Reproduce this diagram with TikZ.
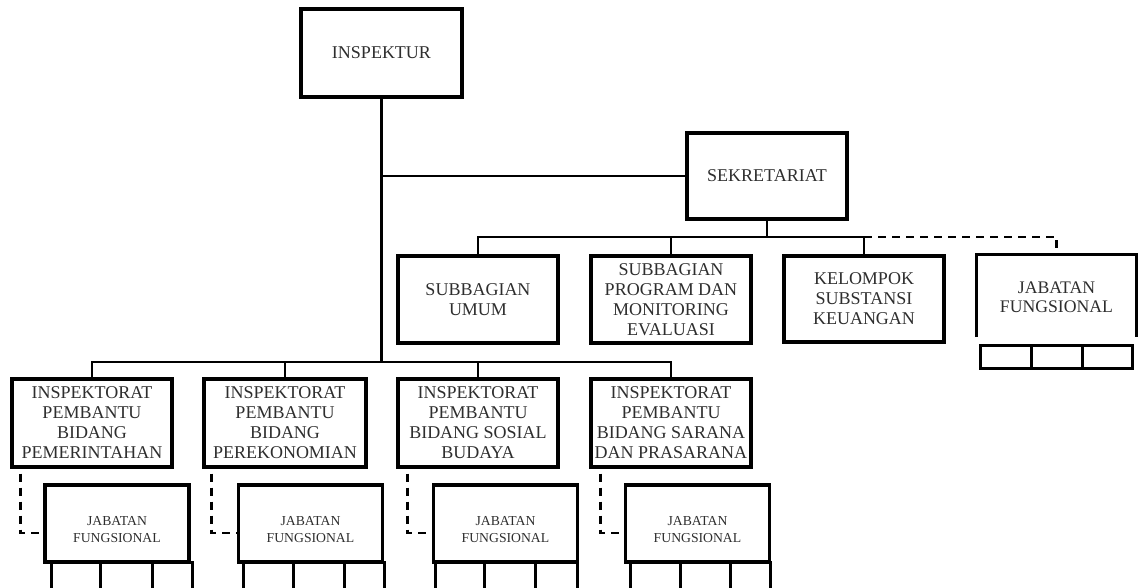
\documentclass[tikz,border=0pt]{standalone}
\usepackage{fontspec}
\setmainfont{Liberation Serif}
\newcommand{\jftext}{\raisebox{-10.5pt}[0pt][0pt]{\begin{tabular}{@{}c@{}}JABATAN\\FUNGSIONAL\end{tabular}}}
\begin{document}
\begin{tikzpicture}[x=1pt,y=-1pt,
  txt/.style={text=black!82,align=center,font=\fontsize{18}{20}\selectfont},
  box/.style={txt,draw=black,line width=3.2pt,inner sep=0pt},
  small/.style={text=black!82,align=center,font=\fontsize{13.7}{17.5}\selectfont},
  smallbox/.style={small,draw=black,line width=3.2pt,inner sep=0pt,minimum width=144pt,minimum height=77pt},
  cell/.style={draw=black,line width=3pt,inner sep=0pt},
  conn/.style={line width=2.8pt},
  dconn/.style={line width=2.6pt,dash pattern=on 8pt off 6pt}]
\useasboundingbox (0,0) rectangle (1138,588);
\clip (0,0) rectangle (1138,588);
% top level
\node[box,minimum width=161pt,minimum height=88pt] (insp) at (381.5,53) {INSPEKTUR};
\node[box,minimum width=160pt,minimum height=86pt] (sek) at (767,176) {SEKRETARIAT};
% secretariat units
\node[box,minimum width=160pt,minimum height=87pt] (sub1) at (478,299.5) {SUBBAGIAN\\UMUM};
\node[box,minimum width=160pt,minimum height=87pt] (sub2) at (671,299.5) {SUBBAGIAN\\PROGRAM DAN\\MONITORING\\EVALUASI};
\node[box,minimum width=160pt,minimum height=86pt] (kel) at (864,299) {KELOMPOK\\SUBSTANSI\\KEUANGAN};
% top-right jabatan fungsional (open box)
\node[txt,font=\fontsize{17.7}{19}\selectfont,minimum width=159pt,minimum height=82pt] (jf0) at (1056.5,296) {\raisebox{-7.5pt}[0pt][0pt]{\begin{tabular}{@{}c@{}}JABATAN\\FUNGSIONAL\end{tabular}}};
\draw[conn,line width=3pt] (jf0.south west) -- (jf0.north west) -- (jf0.north east) -- (jf0.south east);
\node[cell,minimum width=51pt,minimum height=23pt] (c0a) at (1005.5,356.5) {};
\node[cell,minimum width=51pt,minimum height=23pt] (c0b) at (1056.5,356.5) {};
\node[cell,minimum width=50pt,minimum height=23pt] (c0c) at (1107,356.5) {};
% inspektorat pembantu
\node[box,minimum width=160pt,minimum height=88pt] (ip1) at (92,423) {INSPEKTORAT\\PEMBANTU\\BIDANG\\PEMERINTAHAN};
\node[box,minimum width=162pt,minimum height=88pt] (ip2) at (285,423) {INSPEKTORAT\\PEMBANTU\\BIDANG\\PEREKONOMIAN};
\node[box,minimum width=160pt,minimum height=88pt] (ip3) at (478,423) {INSPEKTORAT\\PEMBANTU\\BIDANG SOSIAL\\BUDAYA};
\node[box,minimum width=160pt,minimum height=88pt] (ip4) at (671,423) {INSPEKTORAT\\PEMBANTU\\BIDANG SARANA\\DAN PRASARANA};
% jabatan fungsional below
\node[smallbox] (jf1) at (117,523.5) {\jftext};
\node[smallbox] (jf2) at (310.5,523.5) {\jftext};
\node[smallbox] (jf3) at (505.5,523.5) {\jftext};
\node[smallbox] (jf4) at (697.5,523.5) {\jftext};
% cells under bottom jabatan boxes
\foreach \n/\a/\b/\c/\d in {1/51/100/152/192, 2/243/293/344/384, 3/435/484/535/577, 4/630/680/730/770}{
  \node[cell,minimum width={\b-\a},minimum height=40pt] (c\n a) at ({(\a+\b)/2},582) {};
  \node[cell,minimum width={\c-\b},minimum height=40pt] (c\n b) at ({(\b+\c)/2},582) {};
  \node[cell,minimum width={\d-\c},minimum height=40pt] (c\n c) at ({(\c+\d)/2},582) {};
}
% connectors
\coordinate (ib) at (381.5,362);
\coordinate (is) at (381.5,176);
\coordinate (sb) at (767,237);
\coordinate (kb) at (864,237);
\coordinate (jd) at (1056.5,237);
\draw[conn] (insp.south) -- (ib);
\draw[conn] (is) -- (sek.west);
\draw[conn] (sek.south) -- (sb);
\draw[conn] (sb) -| (sub1.north);
\draw[conn] (sb) -| (sub2.north);
\draw[conn] (sb) -| (kel.north);
\draw[dconn] (kb) -- (jd) -- (jf0.north);
\draw[conn] (ib) -| (ip1.north);
\draw[conn] (ib) -| (ip2.north);
\draw[conn] (ib) -| (ip3.north);
\draw[conn] (ib) -| (ip4.north);
% dashed links to jabatan fungsional
\draw[dconn] ([xshift=10pt,yshift=-5pt]ip1.south west) |- ([yshift=-9.5pt]jf1.west);
\draw[dconn] ([xshift=9pt,yshift=-5pt]ip2.south west) |- ([yshift=-9.5pt]jf2.west);
\draw[dconn] ([xshift=11pt,yshift=-5pt]ip3.south west) |- ([yshift=-9.5pt]jf3.west);
\draw[dconn] ([xshift=11pt,yshift=-5pt]ip4.south west) |- ([yshift=-9.5pt]jf4.west);
\end{tikzpicture}
\end{document}
